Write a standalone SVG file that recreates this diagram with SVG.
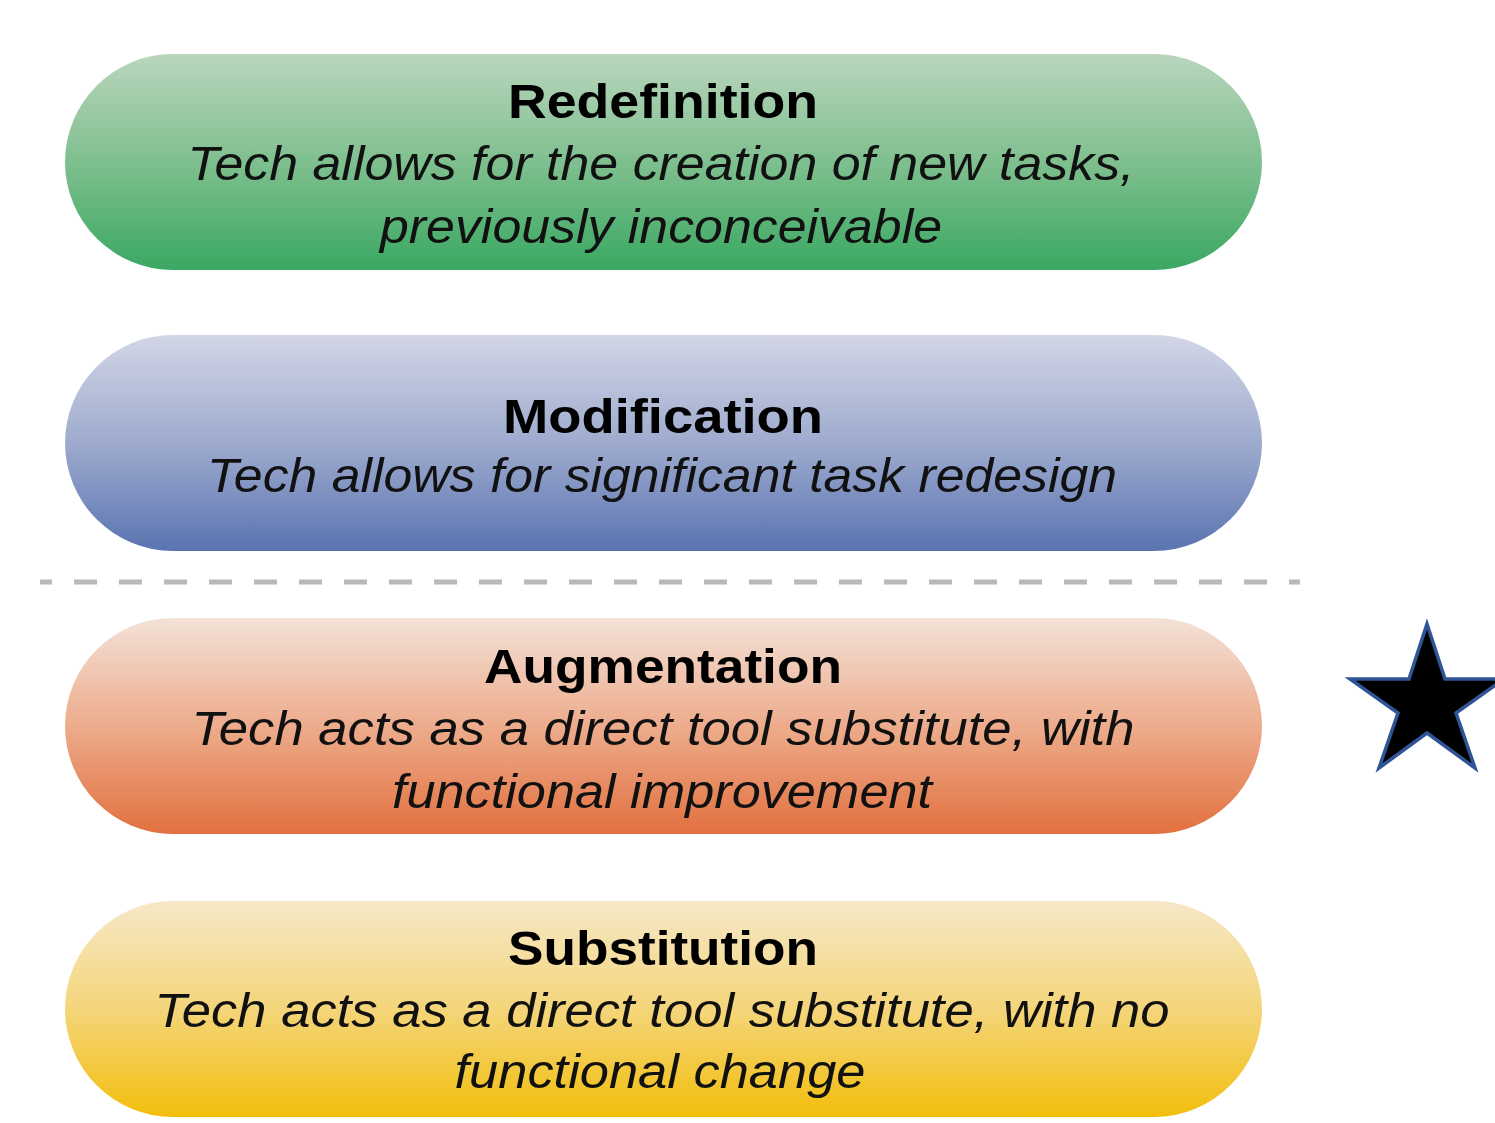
<svg xmlns="http://www.w3.org/2000/svg" width="1495" height="1123" viewBox="0 0 1495 1123">
<defs>
<linearGradient id="gR" x1="0" y1="0" x2="0" y2="1"><stop offset="0" stop-color="#bad6bd"/><stop offset="0.5" stop-color="#7fbf8f"/><stop offset="1" stop-color="#3aa862"/></linearGradient>
<linearGradient id="gM" x1="0" y1="0" x2="0" y2="1"><stop offset="0" stop-color="#d2d6e6"/><stop offset="0.5" stop-color="#9eabce"/><stop offset="1" stop-color="#5a74b1"/></linearGradient>
<linearGradient id="gA" x1="0" y1="0" x2="0" y2="1"><stop offset="0" stop-color="#f3e2d8"/><stop offset="0.5" stop-color="#edac8c"/><stop offset="1" stop-color="#e2703f"/></linearGradient>
<linearGradient id="gS" x1="0" y1="0" x2="0" y2="1"><stop offset="0" stop-color="#f6e8c8"/><stop offset="0.5" stop-color="#f4d57a"/><stop offset="1" stop-color="#f2be0c"/></linearGradient>
</defs>
<style>
.title{font-family:"Liberation Sans",Arial,sans-serif;font-weight:bold;font-size:49px;fill:#000;text-anchor:middle}
.desc{font-family:"Liberation Sans",Arial,sans-serif;font-style:italic;font-size:49px;fill:#111;text-anchor:middle}
</style>
<rect width="1495" height="1123" fill="#fff"/>
<g id="redefinition">
<rect x="65" y="54" width="1197" height="216" rx="108" fill="url(#gR)"/>
<text class="title" x="663" y="118" textLength="310" lengthAdjust="spacingAndGlyphs">Redefinition</text>
<text class="desc" x="661" y="180" textLength="947" lengthAdjust="spacingAndGlyphs">Tech allows for the creation of new tasks,</text>
<text class="desc" x="661" y="243" textLength="562" lengthAdjust="spacingAndGlyphs">previously inconceivable</text>
</g>
<g id="modification">
<rect x="65" y="335" width="1197" height="216" rx="108" fill="url(#gM)"/>
<text class="title" x="663" y="433" textLength="320" lengthAdjust="spacingAndGlyphs">Modification</text>
<text class="desc" x="662" y="492" textLength="910" lengthAdjust="spacingAndGlyphs">Tech allows for significant task redesign</text>
</g>
<g id="connectors">
<line x1="40" y1="582" x2="1300" y2="582" stroke="#b8b8b8" stroke-width="5" stroke-dasharray="23 22" stroke-dashoffset="11"/>
</g>
<g id="augmentation">
<rect x="65" y="618" width="1197" height="216" rx="108" fill="url(#gA)"/>
<text class="title" x="663" y="683" textLength="358" lengthAdjust="spacingAndGlyphs">Augmentation</text>
<text class="desc" x="663" y="745" textLength="943" lengthAdjust="spacingAndGlyphs">Tech acts as a direct tool substitute, with</text>
<text class="desc" x="662" y="808" textLength="540" lengthAdjust="spacingAndGlyphs">functional improvement</text>
</g>
<g id="substitution">
<rect x="65" y="901" width="1197" height="216" rx="108" fill="url(#gS)"/>
<text class="title" x="663" y="965" textLength="310" lengthAdjust="spacingAndGlyphs">Substitution</text>
<text class="desc" x="662" y="1027" textLength="1015" lengthAdjust="spacingAndGlyphs">Tech acts as a direct tool substitute, with no</text>
<text class="desc" x="660" y="1088" textLength="411" lengthAdjust="spacingAndGlyphs">functional change</text>
</g>
<g id="star">
<polygon points="1427,624 1445,679 1504,679 1456,713 1475,768 1427,733 1379,768 1398,713 1350,679 1409,679" fill="#000" stroke="#2f5597" stroke-width="3.5" stroke-linejoin="miter"/>
</g>
</svg>
